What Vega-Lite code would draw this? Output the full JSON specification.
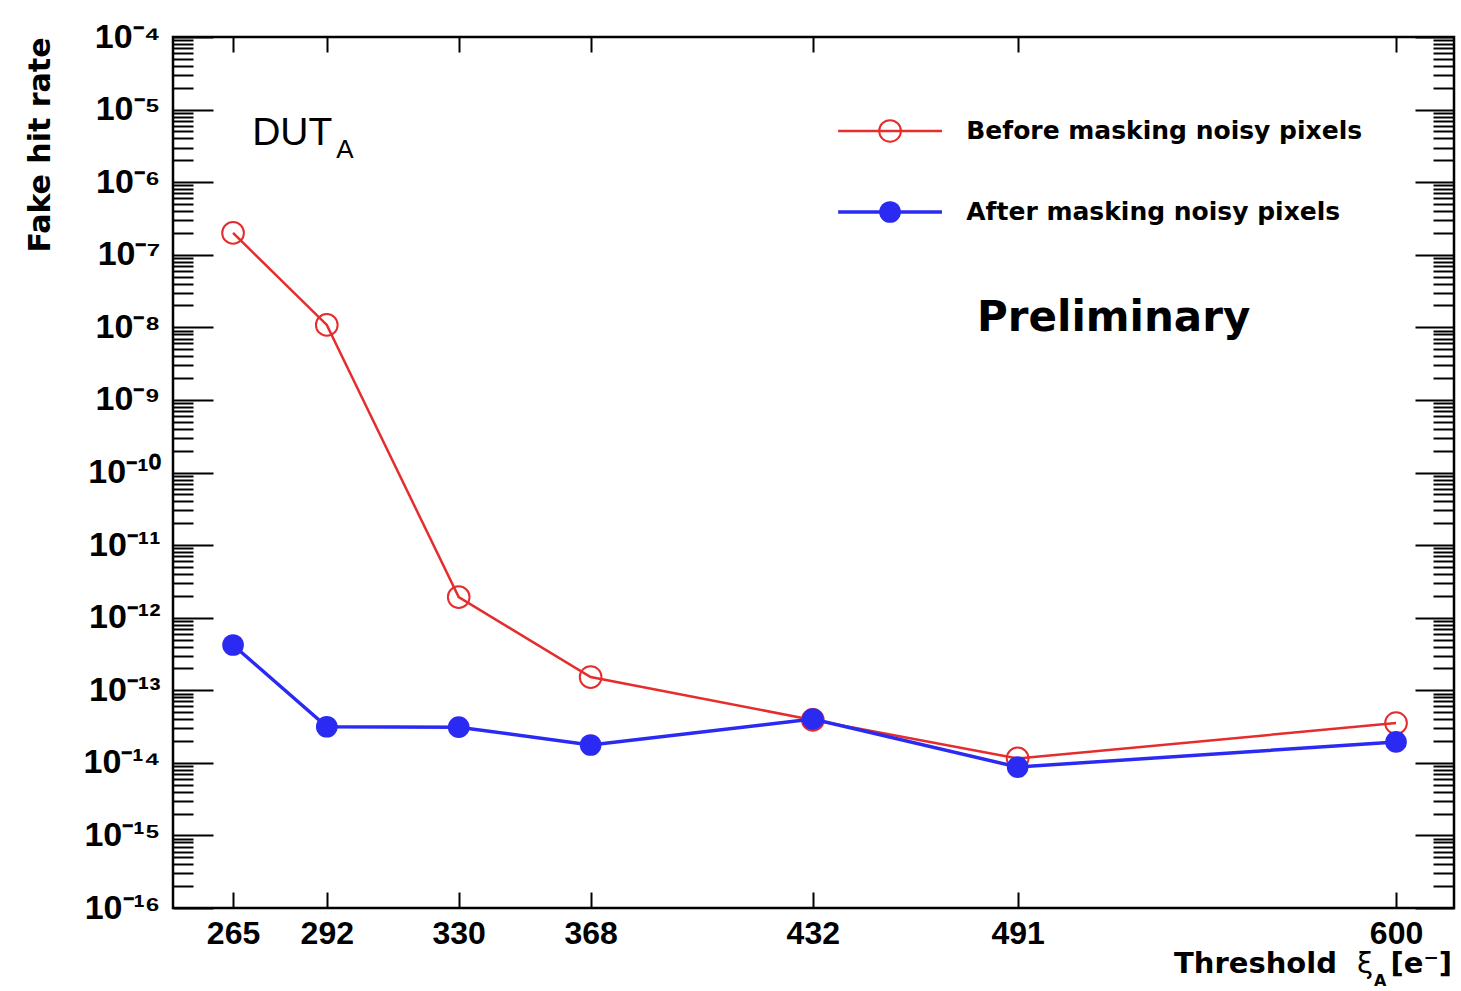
{
  "$schema": "https://vega.github.io/schema/vega-lite/v6.json",
  "width": 1281,
  "height": 871,
  "autosize": "none",
  "padding": {"left": 173, "top": 37, "right": 7, "bottom": 83},
  "background": "white",
  "config": {
    "view": {"stroke": "#000", "strokeWidth": 2.5},
    "axis": {"grid": false, "domain": false, "tickColor": "#000", "tickWidth": 2, "labelColor": "#000", "titleColor": "#000"}
  },
  "datasets": {
    "rates": [
      {"threshold": 265, "rate": 2.0e-7, "series": "before"},
      {"threshold": 292, "rate": 1.08e-8, "series": "before"},
      {"threshold": 330, "rate": 1.92e-12, "series": "before"},
      {"threshold": 368, "rate": 1.52e-13, "series": "before"},
      {"threshold": 432, "rate": 3.9e-14, "series": "before"},
      {"threshold": 491, "rate": 1.15e-14, "series": "before"},
      {"threshold": 600, "rate": 3.53e-14, "series": "before"},
      {"threshold": 265, "rate": 4.2e-13, "series": "after"},
      {"threshold": 292, "rate": 3.14e-14, "series": "after"},
      {"threshold": 330, "rate": 3.1e-14, "series": "after"},
      {"threshold": 368, "rate": 1.76e-14, "series": "after"},
      {"threshold": 432, "rate": 4.0e-14, "series": "after"},
      {"threshold": 491, "rate": 8.75e-15, "series": "after"},
      {"threshold": 600, "rate": 1.94e-14, "series": "after"}
    ]
  },
  "resolve": {"axis": {"x": "independent", "y": "independent"}},
  "layer": [
    {
      "data": {"name": "rates"},
      "transform": [{"filter": "datum.series === 'before'"}],
      "mark": {"type": "line", "color": "#e52d2d", "strokeWidth": 2.5},
      "encoding": {
        "x": {
          "field": "threshold", "type": "quantitative",
          "scale": {"domain": [247.7, 616.7], "nice": false, "zero": false},
          "axis": {
            "orient": "bottom", "title": null, "format": "d",
            "values": [265, 292, 330, 368, 432, 491, 600],
            "tickSize": -16, "labelPadding": 26,
            "labelFont": "Liberation Sans", "labelFontWeight": "bold", "labelFontSize": 32,
            "labelFlush": false, "labelOverlap": false, "labelBound": false
          }
        },
        "y": {
          "field": "rate", "type": "quantitative",
          "scale": {"type": "log", "domain": [1e-16, 1e-4], "nice": false},
          "axis": {
            "orient": "left",
            "values": [1e-16, 2e-16, 3e-16, 4e-16, 5e-16, 6e-16, 7e-16, 8e-16, 9e-16,
                       1e-15, 2e-15, 3e-15, 4e-15, 5e-15, 6e-15, 7e-15, 8e-15, 9e-15,
                       1e-14, 2e-14, 3e-14, 4e-14, 5e-14, 6e-14, 7e-14, 8e-14, 9e-14,
                       1e-13, 2e-13, 3e-13, 4e-13, 5e-13, 6e-13, 7e-13, 8e-13, 9e-13,
                       1e-12, 2e-12, 3e-12, 4e-12, 5e-12, 6e-12, 7e-12, 8e-12, 9e-12,
                       1e-11, 2e-11, 3e-11, 4e-11, 5e-11, 6e-11, 7e-11, 8e-11, 9e-11,
                       1e-10, 2e-10, 3e-10, 4e-10, 5e-10, 6e-10, 7e-10, 8e-10, 9e-10,
                       1e-9, 2e-9, 3e-9, 4e-9, 5e-9, 6e-9, 7e-9, 8e-9, 9e-9,
                       1e-8, 2e-8, 3e-8, 4e-8, 5e-8, 6e-8, 7e-8, 8e-8, 9e-8,
                       1e-7, 2e-7, 3e-7, 4e-7, 5e-7, 6e-7, 7e-7, 8e-7, 9e-7,
                       1e-6, 2e-6, 3e-6, 4e-6, 5e-6, 6e-6, 7e-6, 8e-6, 9e-6,
                       1e-5, 2e-5, 3e-5, 4e-5, 5e-5, 6e-5, 7e-5, 8e-5, 9e-5,
                       1e-4],
            "tickSize": {"condition": {"test": "abs(log(datum.value)/LN10 - round(log(datum.value)/LN10)) < 0.001", "value": -40}, "value": -20},
            "labelExpr": "abs(log(datum.value)/LN10 - round(log(datum.value)/LN10)) < 0.001 ? '10⁻' + (round(-log(datum.value)/LN10) >= 10 ? '¹' + ['⁰','¹','²','³','⁴','⁵','⁶','⁷','⁸','⁹'][round(-log(datum.value)/LN10) - 10] : ['⁰','¹','²','³','⁴','⁵','⁶','⁷','⁸','⁹'][round(-log(datum.value)/LN10)]) : ''",
            "labelFont": "Liberation Sans", "labelFontWeight": "bold", "labelFontSize": 34,
            "labelPadding": 53, "labelOverlap": false, "labelBound": false, "labelFlush": false,
            "title": "Fake hit rate", "titleFont": "DejaVu Sans", "titleFontWeight": "bold", "titleFontSize": 30,
            "titleAnchor": "end", "titlePadding": 28
          }
        }
      }
    },
    {
      "data": {"name": "rates"},
      "transform": [{"filter": "datum.series === 'before'"}],
      "mark": {"type": "point", "shape": "circle", "filled": false, "stroke": "#e52d2d", "strokeWidth": 2, "size": 470, "opacity": 1},
      "encoding": {
        "x": {
          "field": "threshold", "type": "quantitative",
          "scale": {"domain": [247.7, 616.7], "nice": false, "zero": false},
          "axis": {"orient": "top", "title": null, "labels": false, "values": [265, 292, 330, 368, 432, 491, 600], "tickSize": -15}
        },
        "y": {
          "field": "rate", "type": "quantitative",
          "scale": {"type": "log", "domain": [1e-16, 1e-4], "nice": false},
          "axis": {
            "orient": "right", "title": null, "labels": false,
            "values": [1e-16, 2e-16, 3e-16, 4e-16, 5e-16, 6e-16, 7e-16, 8e-16, 9e-16,
                       1e-15, 2e-15, 3e-15, 4e-15, 5e-15, 6e-15, 7e-15, 8e-15, 9e-15,
                       1e-14, 2e-14, 3e-14, 4e-14, 5e-14, 6e-14, 7e-14, 8e-14, 9e-14,
                       1e-13, 2e-13, 3e-13, 4e-13, 5e-13, 6e-13, 7e-13, 8e-13, 9e-13,
                       1e-12, 2e-12, 3e-12, 4e-12, 5e-12, 6e-12, 7e-12, 8e-12, 9e-12,
                       1e-11, 2e-11, 3e-11, 4e-11, 5e-11, 6e-11, 7e-11, 8e-11, 9e-11,
                       1e-10, 2e-10, 3e-10, 4e-10, 5e-10, 6e-10, 7e-10, 8e-10, 9e-10,
                       1e-9, 2e-9, 3e-9, 4e-9, 5e-9, 6e-9, 7e-9, 8e-9, 9e-9,
                       1e-8, 2e-8, 3e-8, 4e-8, 5e-8, 6e-8, 7e-8, 8e-8, 9e-8,
                       1e-7, 2e-7, 3e-7, 4e-7, 5e-7, 6e-7, 7e-7, 8e-7, 9e-7,
                       1e-6, 2e-6, 3e-6, 4e-6, 5e-6, 6e-6, 7e-6, 8e-6, 9e-6,
                       1e-5, 2e-5, 3e-5, 4e-5, 5e-5, 6e-5, 7e-5, 8e-5, 9e-5,
                       1e-4],
            "tickSize": {"condition": {"test": "abs(log(datum.value)/LN10 - round(log(datum.value)/LN10)) < 0.001", "value": -39}, "value": -21}
          }
        }
      }
    },
    {
      "data": {"name": "rates"},
      "transform": [{"filter": "datum.series === 'after'"}],
      "mark": {"type": "line", "color": "#2a2af2", "strokeWidth": 3.5},
      "encoding": {
        "x": {"field": "threshold", "type": "quantitative", "scale": {"domain": [247.7, 616.7], "nice": false, "zero": false}, "axis": null},
        "y": {"field": "rate", "type": "quantitative", "scale": {"type": "log", "domain": [1e-16, 1e-4], "nice": false}, "axis": null}
      }
    },
    {
      "data": {"name": "rates"},
      "transform": [{"filter": "datum.series === 'after'"}],
      "mark": {"type": "point", "shape": "circle", "filled": true, "color": "#2a2af2", "size": 470, "opacity": 1},
      "encoding": {
        "x": {"field": "threshold", "type": "quantitative", "scale": {"domain": [247.7, 616.7], "nice": false, "zero": false}, "axis": null},
        "y": {"field": "rate", "type": "quantitative", "scale": {"type": "log", "domain": [1e-16, 1e-4], "nice": false}, "axis": null}
      }
    },
    {
      "data": {"values": [{}]},
      "mark": {"type": "rule", "color": "#e52d2d", "strokeWidth": 2.5},
      "encoding": {
        "x": {"datum": 439.3, "type": "quantitative", "scale": {"domain": [247.7, 616.7], "nice": false, "zero": false}, "axis": null},
        "x2": {"datum": 469.2},
        "y": {"datum": 5.07e-6, "type": "quantitative", "scale": {"type": "log", "domain": [1e-16, 1e-4], "nice": false}, "axis": null}
      }
    },
    {
      "data": {"values": [{}]},
      "mark": {"type": "point", "shape": "circle", "filled": false, "stroke": "#e52d2d", "strokeWidth": 2, "size": 470, "opacity": 1},
      "encoding": {
        "x": {"datum": 454.25, "type": "quantitative", "scale": {"domain": [247.7, 616.7], "nice": false, "zero": false}, "axis": null},
        "y": {"datum": 5.07e-6, "type": "quantitative", "scale": {"type": "log", "domain": [1e-16, 1e-4], "nice": false}, "axis": null}
      }
    },
    {
      "data": {"values": [{}]},
      "mark": {"type": "rule", "color": "#2a2af2", "strokeWidth": 3.5},
      "encoding": {
        "x": {"datum": 439.3, "type": "quantitative", "scale": {"domain": [247.7, 616.7], "nice": false, "zero": false}, "axis": null},
        "x2": {"datum": 469.2},
        "y": {"datum": 3.88e-7, "type": "quantitative", "scale": {"type": "log", "domain": [1e-16, 1e-4], "nice": false}, "axis": null}
      }
    },
    {
      "data": {"values": [{}]},
      "mark": {"type": "point", "shape": "circle", "filled": true, "color": "#2a2af2", "size": 470, "opacity": 1},
      "encoding": {
        "x": {"datum": 454.25, "type": "quantitative", "scale": {"domain": [247.7, 616.7], "nice": false, "zero": false}, "axis": null},
        "y": {"datum": 3.88e-7, "type": "quantitative", "scale": {"type": "log", "domain": [1e-16, 1e-4], "nice": false}, "axis": null}
      }
    },
    {
      "data": {"values": [{}]},
      "mark": {"type": "text", "text": "Before masking noisy pixels", "align": "left", "baseline": "middle", "font": "DejaVu Sans", "fontWeight": "bold", "fontSize": 25, "color": "#000"},
      "encoding": {
        "x": {"datum": 476.2, "type": "quantitative", "scale": {"domain": [247.7, 616.7], "nice": false, "zero": false}, "axis": null},
        "y": {"datum": 5.07e-6, "type": "quantitative", "scale": {"type": "log", "domain": [1e-16, 1e-4], "nice": false}, "axis": null}
      }
    },
    {
      "data": {"values": [{}]},
      "mark": {"type": "text", "text": "After masking noisy pixels", "align": "left", "baseline": "middle", "font": "DejaVu Sans", "fontWeight": "bold", "fontSize": 25, "color": "#000"},
      "encoding": {
        "x": {"datum": 476.2, "type": "quantitative", "scale": {"domain": [247.7, 616.7], "nice": false, "zero": false}, "axis": null},
        "y": {"datum": 3.88e-7, "type": "quantitative", "scale": {"type": "log", "domain": [1e-16, 1e-4], "nice": false}, "axis": null}
      }
    },
    {
      "data": {"values": [{}]},
      "mark": {"type": "text", "text": "DUT", "align": "left", "baseline": "alphabetic", "font": "Liberation Sans", "fontSize": 39, "color": "#000"},
      "encoding": {
        "x": {"datum": 270.5, "type": "quantitative", "scale": {"domain": [247.7, 616.7], "nice": false, "zero": false}, "axis": null},
        "y": {"datum": 3.25e-6, "type": "quantitative", "scale": {"type": "log", "domain": [1e-16, 1e-4], "nice": false}, "axis": null}
      }
    },
    {
      "data": {"values": [{}]},
      "mark": {"type": "text", "text": "A", "align": "left", "baseline": "alphabetic", "font": "Liberation Sans", "fontSize": 26, "color": "#000", "dx": 84, "dy": 13},
      "encoding": {
        "x": {"datum": 270.5, "type": "quantitative", "scale": {"domain": [247.7, 616.7], "nice": false, "zero": false}, "axis": null},
        "y": {"datum": 3.25e-6, "type": "quantitative", "scale": {"type": "log", "domain": [1e-16, 1e-4], "nice": false}, "axis": null}
      }
    },
    {
      "data": {"values": [{}]},
      "mark": {"type": "text", "text": "Preliminary", "align": "left", "baseline": "alphabetic", "font": "DejaVu Sans", "fontWeight": "bold", "fontSize": 42, "color": "#000"},
      "encoding": {
        "x": {"datum": 479.3, "type": "quantitative", "scale": {"domain": [247.7, 616.7], "nice": false, "zero": false}, "axis": null},
        "y": {"datum": 8.9e-9, "type": "quantitative", "scale": {"type": "log", "domain": [1e-16, 1e-4], "nice": false}, "axis": null}
      }
    },
    {
      "data": {"values": [{}]},
      "mark": {"type": "text", "text": "Threshold", "align": "right", "baseline": "alphabetic", "font": "DejaVu Sans", "fontWeight": "bold", "fontSize": 29, "color": "#000", "dx": -117},
      "encoding": {
        "x": {"datum": 616.7, "type": "quantitative", "scale": {"domain": [247.7, 616.7], "nice": false, "zero": false}, "axis": null},
        "y": {"datum": 1.26e-17, "type": "quantitative", "scale": {"type": "log", "domain": [1e-16, 1e-4], "nice": false}, "axis": null}
      }
    },
    {
      "data": {"values": [{}]},
      "mark": {"type": "text", "text": "ξ", "align": "left", "baseline": "alphabetic", "font": "DejaVu Sans", "fontSize": 29, "color": "#000", "dx": -97},
      "encoding": {
        "x": {"datum": 616.7, "type": "quantitative", "scale": {"domain": [247.7, 616.7], "nice": false, "zero": false}, "axis": null},
        "y": {"datum": 1.26e-17, "type": "quantitative", "scale": {"type": "log", "domain": [1e-16, 1e-4], "nice": false}, "axis": null}
      }
    },
    {
      "data": {"values": [{}]},
      "mark": {"type": "text", "text": "A", "align": "left", "baseline": "alphabetic", "font": "DejaVu Sans", "fontWeight": "bold", "fontSize": 16, "color": "#000", "dx": -80, "dy": 13},
      "encoding": {
        "x": {"datum": 616.7, "type": "quantitative", "scale": {"domain": [247.7, 616.7], "nice": false, "zero": false}, "axis": null},
        "y": {"datum": 1.26e-17, "type": "quantitative", "scale": {"type": "log", "domain": [1e-16, 1e-4], "nice": false}, "axis": null}
      }
    },
    {
      "data": {"values": [{}]},
      "mark": {"type": "text", "text": "[e⁻]", "align": "right", "baseline": "alphabetic", "font": "DejaVu Sans", "fontWeight": "bold", "fontSize": 29, "color": "#000", "dx": -2},
      "encoding": {
        "x": {"datum": 616.7, "type": "quantitative", "scale": {"domain": [247.7, 616.7], "nice": false, "zero": false}, "axis": null},
        "y": {"datum": 1.26e-17, "type": "quantitative", "scale": {"type": "log", "domain": [1e-16, 1e-4], "nice": false}, "axis": null}
      }
    }
  ]
}
